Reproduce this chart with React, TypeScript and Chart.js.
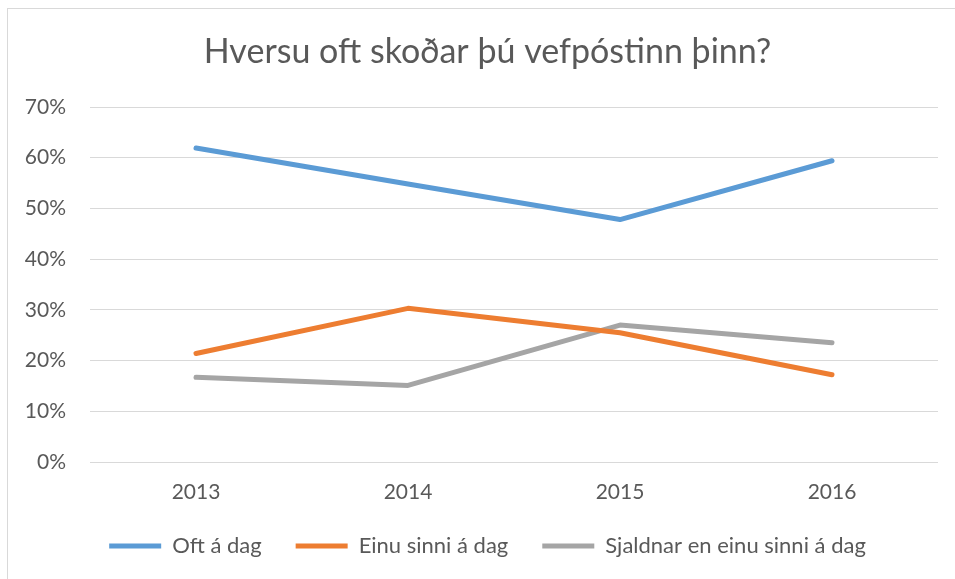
import React, { useEffect, useRef } from 'react';
import { Chart, registerables } from 'chart.js';

Chart.register(...registerables);

const chartTitle = 'Hversu oft skoðar þú vefpóstinn þinn?';
const categories = ['2013', '2014', '2015', '2016'];
const seriesNames = ['Oft á dag', 'Einu sinni á dag', 'Sjaldnar en einu sinni á dag'];
const oftADag = [61.9, 54.8, 47.8, 59.4];
const einuSinniADag = [21.4, 30.3, 25.5, 17.2];
const sjaldnar = [16.7, 15.1, 27.0, 23.5];
const yMin = 0;
const yMax = 70;
const yStep = 10;

const FONT = 'Lato, "Open Sans", sans-serif';
const TEXT = '#595959';

export default function App() {
  const ref = useRef<HTMLCanvasElement | null>(null);

  useEffect(() => {
    if (!ref.current) return;
    const mk = (label: string, data: number[], color: string) => ({
      label,
      data,
      borderColor: color,
      backgroundColor: color,
      borderWidth: 5,
      borderCapStyle: 'round' as const,
      borderJoinStyle: 'round' as const,
      pointRadius: 0,
      pointHoverRadius: 0,
      tension: 0,
      fill: false,
      yAxisID: 'y',
    });
    const chart = new Chart(ref.current, {
      type: 'line',
      data: {
        labels: categories,
        datasets: [
          mk(seriesNames[0], oftADag, '#5B9BD5'),
          mk(seriesNames[1], einuSinniADag, '#ED7D31'),
          mk(seriesNames[2], sjaldnar, '#A5A5A5'),
        ],
      },
      options: {
        animation: false,
        responsive: false,
        maintainAspectRatio: false,
        layout: { padding: { left: 20, right: 0, top: 0, bottom: 12 } },
        plugins: {
          title: {
            display: true,
            text: chartTitle,
            color: TEXT,
            font: { family: FONT, size: 34, weight: 'normal' },
            padding: { top: 32, bottom: 34.2 },
          },
          legend: {
            position: 'bottom',
            labels: {
              color: TEXT,
              font: { family: FONT, size: 22 },
              usePointStyle: true,
              pointStyle: 'line',
              pointStyleWidth: 52,
              padding: 34,
            },
          },
          tooltip: { enabled: false },
        },
        scales: {
          x: {
            offset: true,
            grid: { display: false, drawTicks: false },
            border: { display: false },
            ticks: { color: TEXT, font: { family: FONT, size: 21 }, padding: 18 },
            afterFit: (s: any) => { s.height = 39; },
          },
          y: {
            min: yMin,
            max: yMax,
            grid: { color: '#D9D9D9', lineWidth: 1, drawTicks: false },
            border: { display: false },
            ticks: {
              stepSize: yStep,
              color: TEXT,
              font: { family: FONT, size: 21 },
              padding: 24,
              callback: (v: any) => v + '%',
            },
            afterFit: (s: any) => { s.width = 70; },
          },
          yRight: {
            position: 'right',
            display: true,
            grid: { display: false, drawTicks: false },
            border: { display: false },
            ticks: { display: false },
            afterFit: (s: any) => { s.width = 17; },
          },
        },
      },
    });
    return () => chart.destroy();
  }, []);

  return (
    <div style={{ position: 'fixed', left: 0, top: 0, width: 955, height: 579, overflow: 'hidden', background: '#fff' }}>
      <div style={{ position: 'absolute', left: 7, top: 8, width: 1000, height: 1000, border: '1px solid #D9D9D9', boxSizing: 'border-box' }} />
      <canvas ref={ref} width={955} height={579} style={{ position: 'absolute', left: 0, top: 0, width: 955, height: 579 }} />
    </div>
  );
}
